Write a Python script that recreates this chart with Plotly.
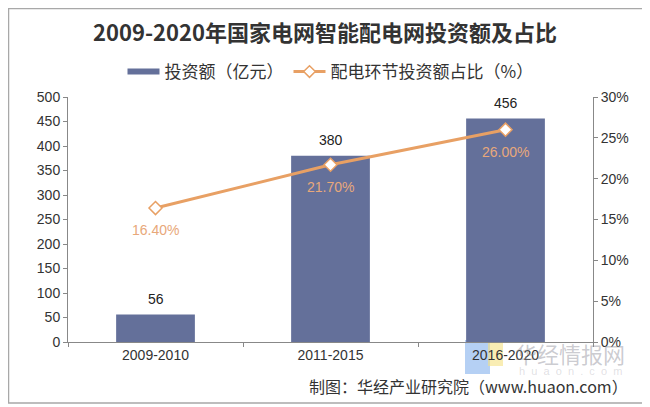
import plotly.graph_objects as go

categories = ["2009-2010", "2011-2015", "2016-2020"]
investment = [56, 380, 456]
share_pct = [16.40, 21.70, 26.00]
share_labels = ["16.40%", "21.70%", "26.00%"]

# page offset (default body margin of the html page)
OFF = 8
W, H = 650 - OFF, 407 - OFF
# plot area in page pixels: x 68..593, y 97..342
PL, PR, PT, PB = 68, 593, 97, 342
L, T = PL - OFF, PT - OFF
R, B = W - (PR - OFF), H - (PB - OFF)
pw, ph = PR - PL, PB - PT

def px(x):
    return (x - PL) / pw

def py(y):
    return (PB - y) / ph

cjk = "Noto Sans CJK SC, Liberation Sans, Arial, sans-serif"
num = "Liberation Sans, Arial, sans-serif"
bar_color = "#64709A"
line_color = "#E8A064"

fig = go.Figure()
fig.add_trace(go.Bar(
    x=categories, y=investment, name="投资额（亿元）", showlegend=False,
    marker=dict(color=bar_color, line=dict(width=0)),
    width=0.45,
))
fig.add_trace(go.Scatter(
    x=categories, y=share_pct, name="配电环节投资额占比（%）", yaxis="y2",
    mode="lines+markers", showlegend=False,
    line=dict(color=line_color, width=3),
    marker=dict(symbol="diamond", size=10, color="white", line=dict(color=line_color, width=1.5)),
    cliponaxis=False,
))
# legend entries
fig.add_trace(go.Scatter(
    x=[None], y=[None], name="投资额（亿元）", mode="lines",
    line=dict(color=bar_color, width=6), showlegend=True,
))
fig.add_trace(go.Scatter(
    x=[None], y=[None], name="配电环节投资额占比（%）", mode="lines+markers", yaxis="y2",
    line=dict(color=line_color, width=3),
    marker=dict(symbol="diamond", size=9, color="white", line=dict(color=line_color, width=1.5)),
    showlegend=True,
))

shapes = [
    dict(type="rect", xref="paper", yref="paper",
         x0=px(OFF + 0.5), x1=px(643), y0=py(403), y1=py(OFF + 0.5),
         line=dict(color="#A8A8A8", width=1.5), fillcolor="rgba(0,0,0,0)", layer="below"),
    dict(type="rect", xref="paper", yref="paper",
         x0=px(465), x1=px(490), y0=py(374), y1=py(340),
         line=dict(width=0), fillcolor="rgba(120,170,235,0.55)", layer="below"),
    dict(type="rect", xref="paper", yref="paper",
         x0=px(488), x1=px(503), y0=py(366), y1=py(336),
         line=dict(width=0), fillcolor="rgba(245,225,130,0.6)", layer="below"),
]

annotations = [
    dict(text="<b>2009-2020年国家电网智能配电网投资额及占比</b>", xref="paper", yref="paper",
         x=px(325), y=py(31), xanchor="center", yanchor="middle", showarrow=False,
         font=dict(family=cjk, size=22, color="#333333")),
    dict(text="制图：华经产业研究院（www.huaon.com）", xref="paper", yref="paper",
         x=px(630), y=py(386), xanchor="right", yanchor="middle", showarrow=False,
         font=dict(family=cjk, size=16, color="#333333")),
    dict(text="华经情报网", xref="paper", yref="paper",
         x=px(570), y=py(353), xanchor="center", yanchor="middle", showarrow=False,
         font=dict(family=cjk, size=22, color="rgba(140,140,150,0.45)")),
    dict(text="h  u  a  o  n  .  c  o  m", xref="paper", yref="paper",
         x=px(570), y=py(371), xanchor="center", yanchor="middle", showarrow=False,
         font=dict(family=num, size=11, color="rgba(150,150,160,0.3)")),
]
for c, v in zip(categories, investment):
    annotations.append(dict(text=str(v), x=c, y=v, xref="x", yref="y",
                            showarrow=False, xanchor="center", yanchor="middle", yshift=16,
                            font=dict(family=num, size=14, color="#222222")))
for c, v, s in zip(categories, share_pct, share_labels):
    annotations.append(dict(text=s, x=c, y=v, xref="x", yref="y2",
                            showarrow=False, xanchor="center", yanchor="middle", yshift=-22,
                            font=dict(family=num, size=14, color="#E8A87A")))

fig.update_layout(
    width=W, height=H,
    margin=dict(l=L, r=R, t=T, b=B, autoexpand=False),
    paper_bgcolor="white", plot_bgcolor="white",
    showlegend=True,
    legend=dict(orientation="h", x=0.5, xanchor="center", y=py(72), yanchor="middle",
                font=dict(family=cjk, size=17, color="#333333"),
                itemwidth=32, traceorder="normal", bgcolor="rgba(0,0,0,0)"),
    bargap=0.55,
    xaxis=dict(showline=True, linecolor="#888888", linewidth=1, ticks="outside",
               tickson="boundaries", ticklen=4, tickcolor="#888888",
               tickfont=dict(family=num, size=14, color="#333333"), showgrid=False),
    yaxis=dict(range=[0, 500], dtick=50, showline=True, linecolor="#888888", linewidth=1,
               ticks="outside", ticklen=4, tickcolor="#888888", showgrid=False,
               tickfont=dict(family=num, size=14, color="#333333"), zeroline=False),
    yaxis2=dict(range=[0, 30], dtick=5, overlaying="y", side="right", ticksuffix="%",
                showline=True, linecolor="#888888", linewidth=1, ticks="outside",
                ticklen=4, tickcolor="#888888", showgrid=False, zeroline=False,
                tickfont=dict(family=num, size=14, color="#333333")),
    shapes=shapes,
    annotations=annotations,
)

fig.write_html("out.html")
